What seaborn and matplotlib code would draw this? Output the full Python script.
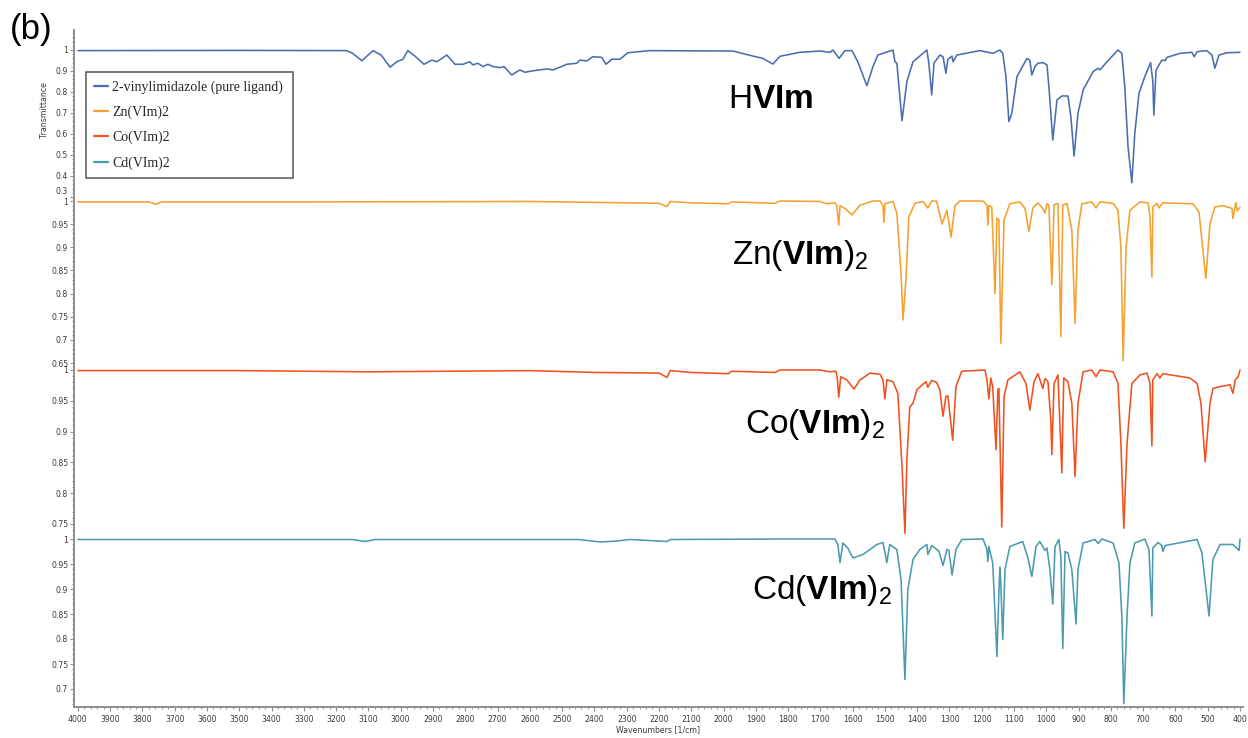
import matplotlib
matplotlib.use("Agg")
import matplotlib.pyplot as plt
import matplotlib.transforms as mtransforms
import seaborn as sns
import pandas as pd
from matplotlib.ticker import MultipleLocator, AutoMinorLocator, FuncFormatter

# ---------------- data (wavenumber [1/cm], transmittance) ----------------
SERIES_NAMES = ["2-vinylimidazole (pure ligand)", "Zn(VIm)2", "Co(VIm)2", "Cd(VIm)2"]
SERIES_TAGS = [r"H$\mathbf{VIm}$", r"Zn($\mathbf{VIm}$)$_2$",
               r"Co($\mathbf{VIm}$)$_2$", r"Cd($\mathbf{VIm}$)$_2$"]
SERIES_COLORS = ["#4a6db0", "#f5a030", "#f0511e", "#4b9aad"]

HVIM = [(4000, 0.997), (3500, 0.998), (3167, 0.997), (3150, 0.985), (3120, 0.949), (3086, 0.997),
        (3060, 0.975), (3033, 0.918), (3012, 0.944), (2993, 0.956), (2978, 0.997), (2956, 0.971),
        (2928, 0.932), (2903, 0.952), (2888, 0.944), (2857, 0.976), (2832, 0.932), (2807, 0.932),
        (2786, 0.944), (2776, 0.929), (2761, 0.937), (2745, 0.921), (2730, 0.932), (2714, 0.921),
        (2693, 0.916), (2680, 0.921), (2656, 0.881), (2631, 0.905), (2615, 0.894), (2590, 0.901),
        (2547, 0.910), (2528, 0.905), (2485, 0.932), (2454, 0.937), (2445, 0.952), (2423, 0.948),
        (2405, 0.968), (2377, 0.965), (2364, 0.932), (2346, 0.956), (2321, 0.956), (2296, 0.987),
        (2228, 0.997), (1971, 0.995), (1909, 0.971), (1878, 0.960), (1847, 0.933), (1825, 0.970),
        (1763, 0.989), (1701, 0.995), (1670, 0.989), (1661, 1.0), (1642, 0.960), (1624, 0.997),
        (1602, 0.997), (1584, 0.944), (1556, 0.830), (1537, 0.921), (1522, 0.976), (1475, 1.0),
        (1469, 0.944), (1463, 0.937), (1447, 0.663), (1432, 0.849), (1413, 0.944), (1370, 1.0),
        (1364, 0.937), (1355, 0.786), (1348, 0.937), (1330, 0.976), (1320, 0.968), (1311, 0.889),
        (1305, 0.956), (1292, 0.971), (1289, 0.944), (1277, 0.976), (1206, 0.997), (1165, 0.984),
        (1144, 1.0), (1135, 0.984), (1125, 0.873), (1116, 0.659), (1107, 0.698), (1091, 0.873),
        (1060, 0.960), (1051, 0.952), (1045, 0.881), (1035, 0.921), (1026, 0.937), (1011, 0.940),
        (998, 0.929), (992, 0.825), (980, 0.571), (967, 0.762), (952, 0.781), (933, 0.781),
        (924, 0.683), (914, 0.495), (902, 0.698), (886, 0.810), (855, 0.897), (840, 0.913),
        (834, 0.905), (812, 0.944), (778, 1.0), (766, 0.984), (757, 0.825), (747, 0.540),
        (735, 0.368), (726, 0.603), (713, 0.794), (695, 0.873), (677, 0.940), (670, 0.849),
        (667, 0.690), (660, 0.905), (642, 0.952), (632, 0.949), (626, 0.965), (586, 0.984),
        (549, 0.989), (542, 0.968), (533, 0.992), (503, 0.997), (487, 0.976), (478, 0.913),
        (465, 0.976), (440, 0.987), (400, 0.989)]

ZN = [(4000, 0.998), (3780, 0.998), (3760, 0.993), (3740, 0.998), (3300, 0.998), (2600, 0.999),
      (2400, 0.997), (2200, 0.995), (2175, 0.988), (2165, 0.999), (2100, 0.996), (1985, 0.994),
      (1975, 0.998), (1840, 0.995), (1825, 1.0), (1701, 0.999), (1680, 0.994), (1655, 0.996),
      (1649, 0.990), (1643, 0.948), (1639, 0.990), (1624, 0.984), (1602, 0.970), (1577, 0.991),
      (1537, 1.0), (1515, 1.0), (1506, 0.990), (1503, 0.954), (1500, 0.994), (1475, 0.999),
      (1463, 0.973), (1450, 0.844), (1444, 0.743), (1435, 0.829), (1426, 0.966), (1407, 0.995),
      (1382, 0.999), (1367, 0.985), (1355, 1.0), (1340, 1.0), (1323, 0.950), (1308, 0.980),
      (1295, 0.922), (1283, 0.990), (1268, 1.0), (1196, 1.0), (1184, 0.991), (1181, 0.948),
      (1178, 0.990), (1169, 0.987), (1159, 0.800), (1153, 0.963), (1147, 0.960), (1141, 0.693),
      (1131, 0.960), (1113, 0.994), (1082, 0.998), (1066, 0.984), (1054, 0.934), (1042, 0.985),
      (1026, 0.996), (1011, 0.984), (1004, 0.974), (998, 0.994), (992, 0.991), (983, 0.819),
      (976, 0.992), (964, 0.995), (955, 0.707), (949, 0.991), (936, 0.995), (921, 0.937),
      (911, 0.736), (902, 0.937), (890, 0.994), (859, 0.998), (846, 0.985), (834, 0.998),
      (793, 0.995), (778, 0.980), (769, 0.901), (762, 0.655), (753, 0.901), (741, 0.980),
      (710, 0.998), (685, 0.996), (679, 0.968), (673, 0.836), (670, 0.987), (657, 0.995),
      (651, 0.985), (639, 0.996), (546, 0.994), (527, 0.976), (506, 0.833), (493, 0.951),
      (478, 0.987), (453, 0.990), (425, 0.984), (422, 0.962), (413, 0.997), (409, 0.979),
      (400, 0.986)]

CO = [(4000, 0.999), (3500, 0.999), (3100, 0.997), (2600, 0.999), (2400, 0.996), (2200, 0.995),
      (2175, 0.988), (2165, 0.999), (2100, 0.996), (1985, 0.994), (1975, 0.998), (1840, 0.996),
      (1825, 1.0), (1701, 1.0), (1670, 0.997), (1652, 0.998), (1648, 0.989), (1643, 0.956),
      (1637, 0.989), (1618, 0.984), (1596, 0.969), (1577, 0.984), (1546, 0.995), (1515, 0.993),
      (1506, 0.984), (1500, 0.953), (1494, 0.984), (1475, 0.981), (1460, 0.962), (1447, 0.843),
      (1438, 0.735), (1432, 0.854), (1423, 0.940), (1413, 0.946), (1401, 0.968), (1373, 0.981),
      (1367, 0.972), (1355, 0.983), (1340, 0.980), (1330, 0.968), (1320, 0.925), (1311, 0.957),
      (1305, 0.958), (1290, 0.886), (1280, 0.973), (1262, 0.998), (1190, 1.0), (1184, 0.984),
      (1178, 0.953), (1172, 0.987), (1166, 0.973), (1156, 0.871), (1150, 0.968), (1147, 0.970),
      (1138, 0.745), (1131, 0.957), (1119, 0.984), (1082, 0.997), (1063, 0.978), (1051, 0.935),
      (1038, 0.981), (1026, 0.994), (1011, 0.970), (1004, 0.986), (995, 0.981), (986, 0.919),
      (983, 0.863), (976, 0.978), (964, 0.992), (952, 0.833), (946, 0.987), (933, 0.981),
      (921, 0.946), (911, 0.827), (902, 0.946), (886, 0.997), (859, 1.0), (846, 0.989),
      (834, 1.0), (793, 0.997), (778, 0.978), (769, 0.881), (760, 0.743), (750, 0.881),
      (735, 0.978), (710, 0.992), (688, 0.995), (679, 0.978), (673, 0.877), (670, 0.984),
      (657, 0.994), (648, 0.987), (639, 0.994), (555, 0.987), (533, 0.978), (521, 0.946),
      (508, 0.851), (493, 0.946), (484, 0.970), (462, 0.973), (431, 0.976), (422, 0.962),
      (415, 0.984), (406, 0.989), (400, 1.0)]

CD = [(4000, 0.999), (3150, 0.999), (3110, 0.995), (3080, 0.999), (2450, 0.999), (2380, 0.994),
      (2330, 0.996), (2290, 0.999), (2175, 0.995), (2165, 0.999), (1825, 1.0), (1692, 1.0),
      (1655, 1.0), (1646, 0.989), (1639, 0.953), (1630, 0.992), (1615, 0.982), (1599, 0.962),
      (1568, 0.969), (1525, 0.989), (1506, 0.993), (1494, 0.953), (1485, 0.989), (1463, 0.979),
      (1450, 0.919), (1438, 0.719), (1429, 0.899), (1413, 0.959), (1392, 0.979), (1370, 0.989),
      (1367, 0.969), (1355, 0.987), (1333, 0.976), (1320, 0.947), (1308, 0.979), (1302, 0.977),
      (1292, 0.928), (1280, 0.979), (1262, 0.999), (1196, 1.0), (1184, 0.979), (1181, 0.955),
      (1178, 0.985), (1166, 0.952), (1153, 0.765), (1147, 0.891), (1144, 0.943), (1141, 0.911),
      (1135, 0.799), (1128, 0.939), (1113, 0.985), (1073, 0.995), (1057, 0.962), (1045, 0.925),
      (1032, 0.985), (1020, 0.995), (1004, 0.977), (998, 0.982), (989, 0.939), (980, 0.870),
      (973, 0.985), (961, 0.999), (955, 0.965), (949, 0.781), (942, 0.975), (933, 0.972),
      (921, 0.939), (908, 0.830), (902, 0.939), (886, 0.992), (849, 0.999), (840, 0.991),
      (828, 1.0), (793, 0.992), (775, 0.952), (766, 0.845), (760, 0.671), (750, 0.845),
      (741, 0.952), (726, 0.992), (695, 1.0), (682, 0.979), (673, 0.846), (670, 0.982),
      (654, 0.993), (642, 0.987), (639, 0.975), (632, 0.987), (533, 0.999), (518, 0.972),
      (496, 0.846), (484, 0.959), (462, 0.989), (422, 0.989), (403, 0.977), (400, 1.0)]

SPECTRA = [HVIM, ZN, CO, CD]
Y_LIMITS = [(0.2952, 1.0952), (0.6458, 1.0065), (0.7321, 1.0081), (0.664, 1.008)]
Y_STEPS = [0.1, 0.05, 0.05, 0.05]
TAG_POS = [(1987, 0.762), (1974, 0.883), (1934, 0.912), (1912, 0.898)]

# ---------------- style ----------------
sns.set_theme(style="ticks")
plt.rcParams["font.family"] = ["DejaVu Sans"]
plt.rcParams["mathtext.fontset"] = "custom"
plt.rcParams["mathtext.rm"] = "Liberation Sans"
plt.rcParams["mathtext.bf"] = "Liberation Sans:bold"
plt.rcParams["mathtext.it"] = "Liberation Sans:italic"

W, H = 1248, 738
fig = plt.figure(figsize=(W / 100, H / 100), dpi=100)
fig.patch.set_facecolor("white")

x_left, x_right = 74, 1242.6
bounds = [30, 198, 365, 535, 707]
spine_c = "#8f8f8f"
lab_c = "#3a3a3a"
tick_fs = 5.6
axes = []
for i in range(4):
    top, bot = bounds[i], bounds[i + 1]
    ax = fig.add_axes([x_left / W, 1 - bot / H, (x_right - x_left) / W, (bot - top) / H])
    ax.set_facecolor("none")
    df = pd.DataFrame(SPECTRA[i], columns=["wn", "T"])
    sns.lineplot(data=df, x="wn", y="T", ax=ax, color=SERIES_COLORS[i], linewidth=1.15,
                 estimator=None, label=SERIES_NAMES[i], legend=False)
    ax.set_xlim(4012, 392)
    ax.set_ylim(*Y_LIMITS[i])
    ax.set_xlabel("")
    ax.set_ylabel("")
    ax.yaxis.set_major_locator(MultipleLocator(Y_STEPS[i]))
    ax.yaxis.set_minor_locator(AutoMinorLocator(5))
    if i == 0:
        # lowest label of the top panel is drawn separately, nudged up to sit above the
        # "1" of the panel below (as in the original, where the two nearly touch)
        fmt = lambda v, _: "" if abs(v - 0.3) < 1e-6 else f"{round(v, 3):g}"
    else:
        fmt = lambda v, _: f"{round(v, 3):g}"
    ax.yaxis.set_major_formatter(FuncFormatter(fmt))
    ax.xaxis.set_major_locator(MultipleLocator(100))
    ax.xaxis.set_minor_locator(MultipleLocator(20))
    ax.xaxis.set_major_formatter(FuncFormatter(lambda v, _: f"{int(round(v))}"))
    last = i == 3
    sns.despine(ax=ax, top=True, right=True, bottom=not last)
    ax.spines["left"].set_color(spine_c)
    ax.spines["left"].set_linewidth(1.4)
    ax.spines["bottom"].set_color(spine_c)
    ax.spines["bottom"].set_linewidth(1.4)
    ax.tick_params(axis="y", which="major", length=3, width=0.8, color=spine_c,
                   labelsize=tick_fs, labelcolor=lab_c, pad=1.2)
    ax.tick_params(axis="y", which="minor", length=1.6, width=0.7, color=spine_c)
    if last:
        ax.tick_params(axis="x", which="major", length=3, width=0.8, color=spine_c,
                       labelsize=tick_fs, labelcolor=lab_c, pad=3)
        ax.tick_params(axis="x", which="minor", length=1.6, width=0.7, color=spine_c)
    else:
        ax.tick_params(axis="x", which="both", bottom=False, labelbottom=False)
    ax.text(TAG_POS[i][0], TAG_POS[i][1], SERIES_TAGS[i], fontsize=24,
            family="Liberation Sans", ha="left", va="center", color="black")
    axes.append(ax)

# nudged "0.3" label of the top panel
off = mtransforms.ScaledTranslation(-4.2 / 72, 1.0 / 72, fig.dpi_scale_trans)
axes[0].text(0, 0.3, "0.3", transform=axes[0].get_yaxis_transform() + off,
             ha="right", va="bottom", fontsize=tick_fs, color=lab_c)

# legend in top panel
handles, labels = [], []
for ax in axes:
    h, l = ax.get_legend_handles_labels()
    handles += h
    labels += l
leg = axes[0].legend(handles, labels, loc="upper left",
                     bbox_to_anchor=(86 / W, 1 - 72 / H, 207 / W, 0),
                     bbox_transform=fig.transFigure, mode="expand",
                     prop={"family": "Liberation Serif", "size": 10},
                     frameon=True, fancybox=False, framealpha=1, edgecolor="#555555",
                     borderpad=0.6, labelspacing=0.85, handlelength=1.0,
                     handletextpad=0.3, borderaxespad=0)
leg.get_frame().set_linewidth(1.1)
for line in leg.get_lines():
    line.set_linewidth(1.6)

fig.text(45 / W, 1 - 110 / H, "Transmittance", rotation=90, ha="center", va="center",
         fontsize=5.6, color=lab_c)
fig.text(658 / W, 1 - 730 / H, "Wavenumbers [1/cm]", ha="center", va="center",
         fontsize=5.6, color=lab_c)
fig.text(10 / W, 1 - 29 / H, "(b)", ha="left", va="center", fontsize=25,
         family="Liberation Sans", color="black")

fig.savefig("out.png", dpi=100, facecolor="white")
